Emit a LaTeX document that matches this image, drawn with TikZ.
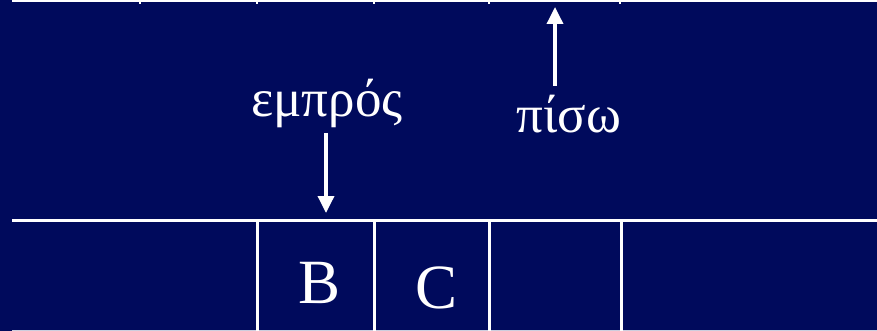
\documentclass[tikz,border=0pt]{standalone}
\usepackage{fontspec}
\setmainfont{Liberation Serif}
\usetikzlibrary{arrows.meta}
\definecolor{navy}{RGB}{0,10,92}

\begin{document}
\begin{tikzpicture}[line cap=butt,x=1pt,y=-1pt,>={Triangle[width=16pt,length=17pt]},
	cell/.style={white,line width=3pt},
	pointer/.style={white,line width=3.5pt,->},
	lbl/.style={white,inner sep=0pt,anchor=base,font=\fontsize{53}{55}\selectfont},
	item/.style={white,inner sep=0pt,anchor=base,font=\fontsize{63}{66}\selectfont}]
	\fill[navy] (0,0) rectangle (877,331);
	\useasboundingbox (0,0) rectangle (877,331);
	% upper row (cut off)
	\draw [white,line width=2pt] (12,1)-- (877,1);
	\foreach \x in {140,257,374,489,620}
		\draw [white,line width=2pt] (\x,0)-- (\x,4);
	% lower row
	\draw [cell] (12,220)-- (877,220);
	\draw [white!80!navy,line width=1pt] (12,330.5)-- (877,330.5);
	\foreach \x in {257,374,489,621}
		\draw [cell] (\x,220)-- (\x,331);
	\node[item] (b) at (320,303) {B};
	\node[item] (c) at (437,308) {C};
	% pointers
	\node[lbl] (front) at (327,117) {εμπρός};
	\coordinate (fronttip) at (326,213);
	\draw [pointer] (326,133)-- (fronttip);
	\node[lbl] (rear) at (569,133) {πίσω};
	\coordinate (reartail) at (555,86);
	\coordinate (reartip) at (555,7);
	\draw [pointer] (reartail)-- (reartip);
\end{tikzpicture}
\end{document}
